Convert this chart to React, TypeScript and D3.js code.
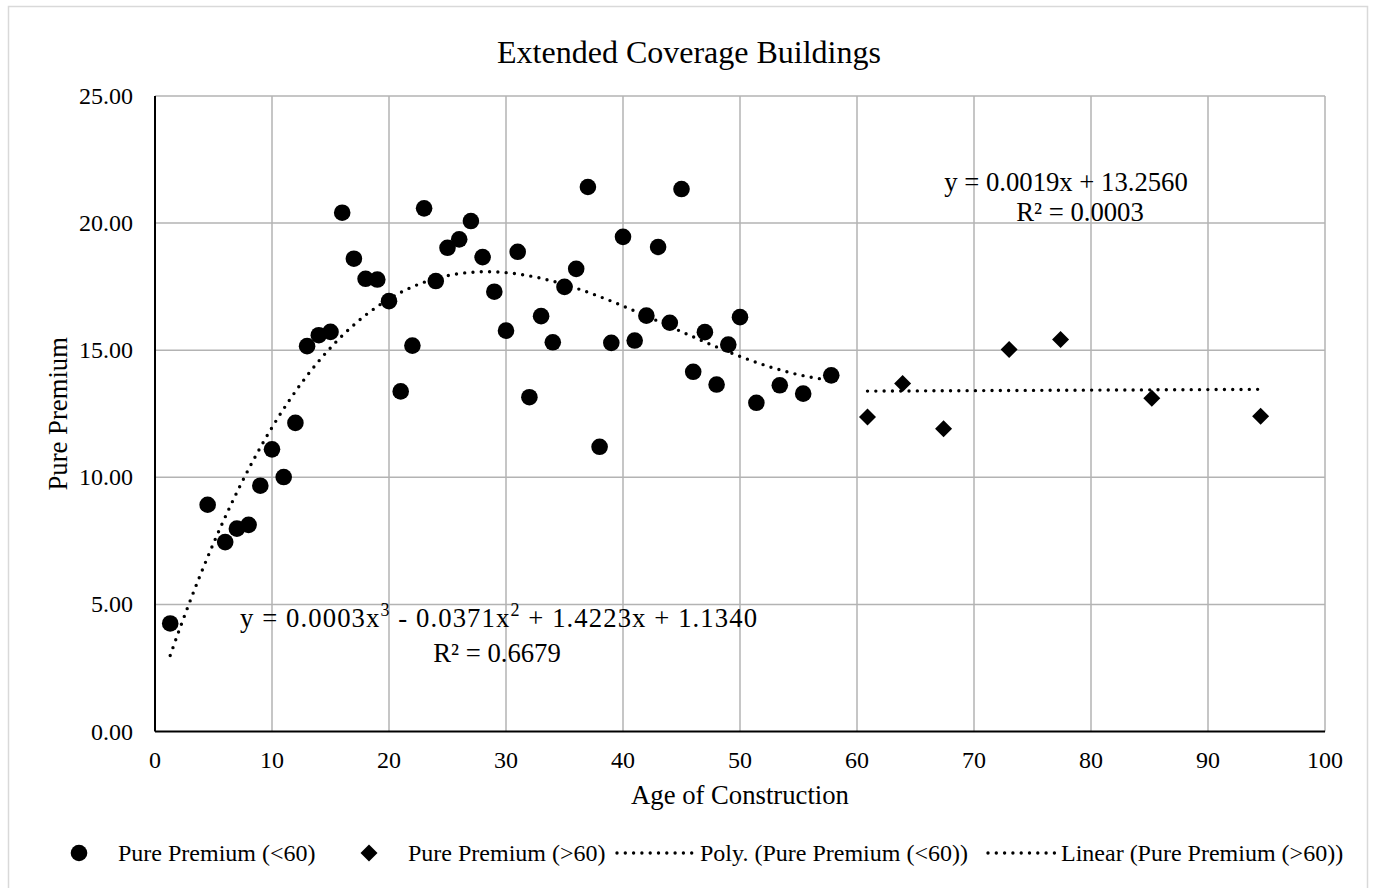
import React from "react";
import * as d3 from "d3";

const ageUnder60 = [1.3, 4.5, 6, 7, 8, 9, 10, 11, 12, 13, 14, 15, 16, 17, 18, 19, 20, 21, 22, 23, 24, 25, 26, 27, 28, 29, 30, 31, 32, 33, 34, 35, 36, 37, 38, 39, 40, 41, 42, 43, 44, 45, 46, 47, 48, 49, 50, 51.4, 53.4, 55.4, 57.8];
const premiumUnder60 = [4.25, 8.92, 7.45, 7.98, 8.13, 9.67, 11.1, 10.01, 12.14, 15.16, 15.59, 15.72, 20.41, 18.6, 17.81, 17.78, 16.93, 13.38, 15.18, 20.58, 17.72, 19.03, 19.36, 20.08, 18.66, 17.3, 15.77, 18.87, 13.15, 16.34, 15.31, 17.49, 18.2, 21.42, 11.2, 15.29, 19.46, 15.38, 16.36, 19.06, 16.08, 21.34, 14.15, 15.71, 13.65, 15.22, 16.3, 12.93, 13.62, 13.29, 14.01];
const ageOver60 = [60.9, 63.9, 67.4, 73.0, 77.4, 85.2, 94.5];
const premiumOver60 = [12.37, 13.69, 11.91, 15.03, 15.42, 13.11, 12.4];

const xTicks = [0, 10, 20, 30, 40, 50, 60, 70, 80, 90, 100];
const yTicks = [0, 5, 10, 15, 20, 25];

const titleText = "Extended Coverage Buildings";
const xTitle = "Age of Construction";
const yTitle = "Pure Premium";
const legendLabels = ["Pure Premium (<60)", "Pure Premium (>60)", "Poly. (Pure Premium (<60))", "Linear (Pure Premium (>60))"];

// least squares polynomial fit
function polyFit(xs: number[], ys: number[], deg: number): number[] {
  const n = deg + 1;
  const A: number[][] = [];
  for (let i = 0; i < n; i++) {
    const row: number[] = [];
    for (let j = 0; j < n; j++) {
      row.push(d3.sum(xs, (x) => Math.pow(x, i + j)));
    }
    row.push(d3.sum(xs, (x, k) => Math.pow(x, i) * ys[k]));
    A.push(row);
  }
  for (let c = 0; c < n; c++) {
    let p = c;
    for (let r = c + 1; r < n; r++) if (Math.abs(A[r][c]) > Math.abs(A[p][c])) p = r;
    [A[c], A[p]] = [A[p], A[c]];
    for (let r = 0; r < n; r++) {
      if (r === c) continue;
      const f = A[r][c] / A[c][c];
      for (let k = c; k <= n; k++) A[r][k] -= f * A[c][k];
    }
  }
  return A.map((row, i) => row[n] / row[i]);
}
const evalPoly = (co: number[], x: number) => co.reduce((s, c, i) => s + c * Math.pow(x, i), 0);

const FONT = "'Liberation Serif', 'Times New Roman', serif";

export default function App() {
  const W = 1374, H = 888;
  const left = 155, right = 1325, top = 96, bottom = 731.5;
  const x = d3.scaleLinear().domain([0, 100]).range([left, right]);
  const y = d3.scaleLinear().domain([0, 25]).range([bottom, top]);

  const polyCo = polyFit(ageUnder60, premiumUnder60, 3);
  const linCo = polyFit(ageOver60, premiumOver60, 1);
  const x0 = d3.min(ageUnder60)!, x1 = d3.max(ageUnder60)!;
  const polyPts = d3.range(0, 201).map((i) => {
    const xv = x0 + ((x1 - x0) * i) / 200;
    return [xv, evalPoly(polyCo, xv)] as [number, number];
  });
  const lx0 = d3.min(ageOver60)!, lx1 = d3.max(ageOver60)!;
  const linPts: [number, number][] = [[lx0, evalPoly(linCo, lx0)], [lx1, evalPoly(linCo, lx1)]];
  const line = d3.line<[number, number]>().x((d) => x(d[0])).y((d) => y(d[1]));

  const dotStyle = { fill: "none", stroke: "#000", strokeWidth: 3.4, strokeLinecap: "round" as const, strokeDasharray: "0 8.3" };
  const diamond = (cx: number, cy: number, s: number) => `M${cx},${cy - s}L${cx + s},${cy}L${cx},${cy + s}L${cx - s},${cy}Z`;

  const legY = 853;
  const R = 8.3;
  const D = 8.5;

  return (
    <svg width={W} height={H} style={{ position: "absolute", left: 0, top: 0, background: "#fff" }} fontFamily={FONT}>
      <rect x={0} y={0} width={W} height={H} fill="#fff" />
      <rect x={8.5} y={6.5} width={1359} height={895} fill="#fff" stroke="#d9d9d9" strokeWidth={1.5} />
      <text x={689} y={63} fontSize={32} textAnchor="middle" fill="#000">{titleText}</text>

      {/* gridlines */}
      {xTicks.filter((t) => t > 0).map((t) => (
        <line key={"gx" + t} x1={x(t)} x2={x(t)} y1={top} y2={bottom} stroke="#b3b3b3" strokeWidth={1.5} />
      ))}
      {yTicks.filter((t) => t > 0).map((t) => (
        <line key={"gy" + t} x1={left} x2={right} y1={y(t)} y2={y(t)} stroke="#b3b3b3" strokeWidth={1.5} />
      ))}
      {/* axes */}
      <line x1={left} x2={left} y1={top} y2={bottom} stroke="#000" strokeWidth={2} />
      <line x1={left} x2={right} y1={bottom} y2={bottom} stroke="#000" strokeWidth={2} />

      {/* tick labels */}
      {xTicks.map((t) => (
        <text key={"tx" + t} x={x(t)} y={768} fontSize={24} textAnchor="middle" fill="#000">{t}</text>
      ))}
      {yTicks.map((t) => (
        <text key={"ty" + t} x={133} y={y(t) + 8} fontSize={24} textAnchor="end" fill="#000">{t.toFixed(2)}</text>
      ))}
      <text x={(left + right) / 2} y={804} fontSize={26.7} textAnchor="middle" fill="#000">{xTitle}</text>
      <text transform={`translate(67,${(top + bottom) / 2}) rotate(-90)`} fontSize={26.7} textAnchor="middle" fill="#000">{yTitle}</text>

      {/* trendlines */}
      <path d={line(polyPts) || ""} {...dotStyle} />
      <path d={line(linPts) || ""} {...dotStyle} />

      {/* markers */}
      {ageUnder60.map((a, i) => (
        <circle key={"c" + i} cx={x(a)} cy={y(premiumUnder60[i])} r={R} fill="#000" />
      ))}
      {ageOver60.map((a, i) => (
        <path key={"d" + i} d={diamond(x(a), y(premiumOver60[i]), D)} fill="#000" />
      ))}

      {/* equations */}
      <text x={240} y={627} fontSize={26.7} textAnchor="start" fill="#000" textLength={517} lengthAdjust="spacing">
        y = 0.0003x<tspan fontSize={18} dy={-11}>3</tspan><tspan dy={11}> - 0.0371x</tspan><tspan fontSize={18} dy={-11}>2</tspan><tspan dy={11}> + 1.4223x + 1.1340</tspan>
      </text>
      <text x={497} y={662} fontSize={26.7} textAnchor="middle" fill="#000">R² = 0.6679</text>
      <text x={1066} y={191} fontSize={26.7} textAnchor="middle" fill="#000">y = 0.0019x + 13.2560</text>
      <text x={1080} y={221} fontSize={26.7} textAnchor="middle" fill="#000">R² = 0.0003</text>

      {/* legend */}
      <circle cx={79} cy={legY} r={R} fill="#000" />
      <text x={118} y={legY + 8} fontSize={24} fill="#000">{legendLabels[0]}</text>
      <path d={diamond(369, legY, D)} fill="#000" />
      <text x={408} y={legY + 8} fontSize={24} fill="#000">{legendLabels[1]}</text>
      <line x1={617} x2={692} y1={legY} y2={legY} {...dotStyle} />
      <text x={700} y={legY + 8} fontSize={24} fill="#000">{legendLabels[2]}</text>
      <line x1={988} x2={1055} y1={legY} y2={legY} {...dotStyle} />
      <text x={1061} y={legY + 8} fontSize={24} fill="#000">{legendLabels[3]}</text>
    </svg>
  );
}
